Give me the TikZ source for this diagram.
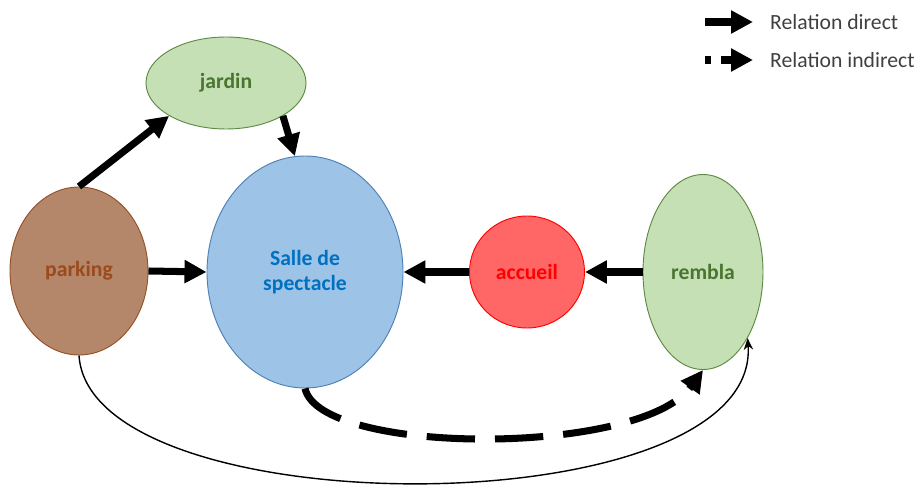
\documentclass[tikz,border=0pt]{standalone}
\usepackage{fontspec}
\setmainfont{Carlito}
\usetikzlibrary{positioning, shapes.geometric, arrows.meta}
\definecolor{greenfill}{HTML}{C5E0B4}
\definecolor{greenline}{HTML}{5E8A44}
\definecolor{greentext}{HTML}{4A7530}
\definecolor{brownfill}{HTML}{B5876A}
\definecolor{brownline}{HTML}{955026}
\definecolor{browntext}{HTML}{9A4A1C}
\definecolor{bluefill}{HTML}{9DC3E6}
\definecolor{blueline}{HTML}{4F81B5}
\definecolor{bluetext}{HTML}{0070C0}
\definecolor{redfill}{HTML}{FF6666}
\definecolor{redline}{HTML}{FF0000}
\definecolor{legendgray}{HTML}{404040}
\tikzset{
	place/.style={ellipse, draw, line width=0.8pt, inner sep=0pt, align=center, font=\fontsize{18.5}{21}\selectfont\bfseries},
	direct/.style={-{Triangle[length=6.6mm, width=6.6mm]}, line width=6pt},
	indirect/.style={direct, dash pattern=on 1.45cm off 0.6cm}
}
\begin{document}
\begin{tikzpicture}[
		x=0.03cm, y=-0.03cm,
		garden/.style={place, fill=greenfill, draw=greenline, text=greentext},
		parkingplace/.style={place, fill=brownfill, draw=brownline, text=browntext},
		hall/.style={place, fill=bluefill, draw=blueline, text=bluetext},
		welcome/.style={place, fill=redfill, draw=redline, text=redline},
		loop/.style={-{Stealth[length=3.5mm, width=2.8mm]}, line width=1.2pt},
		legendtext/.style={anchor=west, inner sep=0pt, text=legendgray, font=\fontsize{18.5}{21}\selectfont}
		]
		
		\useasboundingbox (0,0) rectangle (917,485);
		
		\node[garden, minimum width=4.8cm, minimum height=2.76cm] (jardin) at (226,83) {jardin};
		\node[parkingplace, minimum width=4.14cm, minimum height=5.04cm] (parking) at (79,271) {parking};
		\node[hall, minimum width=5.88cm, minimum height=6.96cm] (salle) at (305,272) {Salle de\\ spectacle};
		\node[welcome, minimum width=3.45cm, minimum height=3.36cm] (accueil) at (527,272) {accueil};
		\node[garden, minimum width=3.6cm, minimum height=5.85cm] (rembla) at (703,272) {rembla};
		
		\draw[direct] (parking.north) -- (jardin.210);
		\draw[direct] (jardin.-30) -- (salle.95);
		\draw[direct] (parking.east) -- (salle.west);
		\draw[direct] (accueil.west) -- (salle.east);
		\draw[direct] (rembla.west) -- (accueil.east);
		
		\draw[indirect] (salle.south) ..
		controls +(15,67) and +(-63,87) ..
		(rembla.south);
		
		\draw[loop] (parking.south) ..
		controls +(11,173) and +(13,190) ..
		(rembla.-56);
		
		\coordinate (dstart) at (705,22);
		\coordinate (dend) at (753,22);
		\draw[direct] (dstart) -- (dend);
		\node[legendtext] (ldirect) at (770,22) {Relation direct};
		
		\coordinate (istart) at (705,60);
		\coordinate (iend) at (753,60);
		\draw[direct, dash pattern=on 5pt off 8.5pt on 40pt] (istart) -- (iend);
		\node[legendtext] (lindirect) at (770,60) {Relation indirect};
		
	\end{tikzpicture}
\end{document}
